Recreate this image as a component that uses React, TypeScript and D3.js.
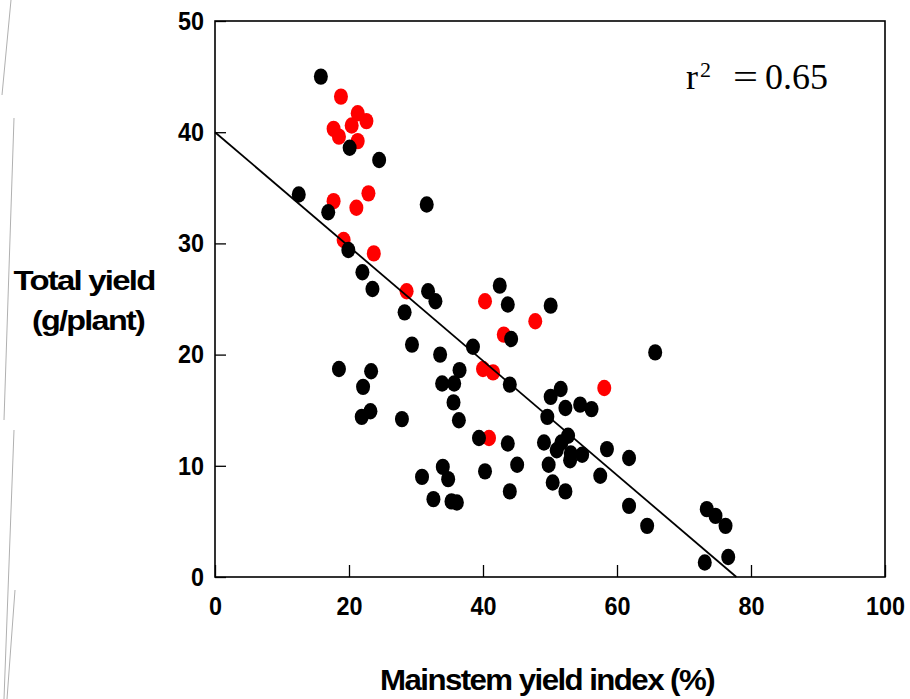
import * as d3 from 'd3';
import React, { useEffect, useRef } from 'react';

// mainstem yield index (%) vs total yield (g/plant)
const blackX = [15.8, 20.1, 24.5, 12.5, 16.9, 31.6, 19.9, 22.0, 23.5, 31.8, 32.9, 28.3, 42.5, 43.7, 50.1, 44.2, 65.7, 29.4, 33.6, 38.5,
  18.5, 23.3, 36.5, 22.1, 33.9, 35.7, 35.6, 23.2, 21.9, 27.9, 36.4, 44.0, 51.6, 50.1, 52.3, 54.5, 56.2, 49.6, 39.4, 43.7,
  49.1, 52.7, 51.7, 51.0, 53.1, 53.0, 54.8, 58.5, 61.8, 45.1, 49.8, 57.5, 40.3, 34.0, 34.8, 30.9, 50.4, 44.0, 52.3, 32.6,
  35.3, 36.1, 61.8, 64.5, 73.4, 74.7, 76.2, 73.1, 76.6];
const blackY = [45.0, 38.6, 37.5, 34.4, 32.8, 33.5, 29.4, 27.4, 25.9, 25.7, 24.8, 23.8, 26.2, 24.5, 24.4, 21.4, 20.2, 20.9, 20.0, 20.7,
  18.7, 18.5, 18.6, 17.1, 17.4, 17.4, 15.7, 14.9, 14.4, 14.2, 14.1, 17.3, 16.9, 16.2, 15.2, 15.5, 15.1, 14.4, 12.5, 12.0,
  12.1, 12.7, 12.1, 11.4, 11.1, 10.5, 11.0, 11.5, 10.7, 10.1, 10.1, 9.1, 9.5, 9.9, 8.8, 9.0, 8.5, 7.7, 7.7, 7.0,
  6.8, 6.7, 6.4, 4.6, 6.1, 5.5, 4.6, 1.3, 1.8];

const redX = [18.8, 21.3, 22.6, 20.4, 17.7, 18.5, 21.3, 22.9, 17.7, 21.1, 19.2, 23.7, 28.6, 40.3, 47.8, 43.1, 40.0, 41.5, 58.1, 40.9];
const redY = [43.2, 41.7, 41.0, 40.6, 40.3, 39.6, 39.2, 34.5, 33.8, 33.2, 30.3, 29.1, 25.7, 24.8, 23.0, 21.8, 18.7, 18.4, 17.0, 12.5];

// fitted line, y = a + b*x
const fitIntercept = 40;
const fitSlope = -0.514;
const rSquared = '0.65';

const xTicks = [0, 20, 40, 60, 80, 100];
const yTicks = [0, 10, 20, 30, 40, 50];

const W = 910, H = 699;
const margin = { left: 215, right: 25, top: 21, bottom: 122 };
const FONT = '"Liberation Sans", Arial, sans-serif';

// narrow bold digits like the original
const styleTicks = (sel) => {
  sel.selectAll('text')
    .attr('font-family', FONT).attr('font-weight', 'bold')
    .attr('font-size', 26).attr('fill', '#000')
    .attr('textLength', d => String(d).length * 13)
    .attr('lengthAdjust', 'spacingAndGlyphs');
};

const Chart = () => {
  const ref = useRef<SVGSVGElement>(null);

  useEffect(() => {
    const svg = d3.select(ref.current);
    svg.selectAll('*').remove();

    const x = d3.scaleLinear().domain([0, 100]).range([margin.left, W - margin.right]);
    const y = d3.scaleLinear().domain([0, 50]).range([H - margin.bottom, margin.top]);

    // scan artefacts at the left edge
    const scan = [[11, 0, 2, 95], [14, 118, 4, 420], [14, 430, 4, 699], [15, 590, 7, 699]];
    svg.append('g').selectAll('line').data(scan).enter().append('line')
      .attr('x1', d => d[0]).attr('y1', d => d[1]).attr('x2', d => d[2]).attr('y2', d => d[3])
      .attr('stroke', '#b0b0b0').attr('stroke-width', 1);

    // x axis
    const gx = svg.append('g')
      .attr('transform', 'translate(0,' + y(0) + ')')
      .call(d3.axisBottom(x).tickValues(xTicks).tickSizeInner(-12).tickSizeOuter(0).tickPadding(20));
    gx.select('.domain').remove();
    gx.selectAll('line').attr('stroke', '#000').attr('stroke-width', 1.3);
    styleTicks(gx);

    // y axis
    const gy = svg.append('g')
      .attr('transform', 'translate(' + x(0) + ',0)')
      .call(d3.axisLeft(y).tickValues(yTicks).tickSizeInner(-11).tickSizeOuter(0).tickPadding(11));
    gy.select('.domain').remove();
    gy.selectAll('line').attr('stroke', '#000').attr('stroke-width', 1.3);
    styleTicks(gy);

    // frame
    svg.append('rect')
      .attr('x', x(0)).attr('y', y(50))
      .attr('width', x(100) - x(0)).attr('height', y(0) - y(50))
      .attr('fill', 'none').attr('stroke', '#000').attr('stroke-width', 1.6);

    // points, red first then black on top
    const red = redX.map((v, i) => [v, redY[i]]);
    const black = blackX.map((v, i) => [v, blackY[i]]);
    svg.append('g').selectAll('ellipse').data(red).enter().append('ellipse')
      .attr('cx', d => x(d[0])).attr('cy', d => y(d[1]))
      .attr('rx', 7).attr('ry', 8.2).attr('fill', '#ff0000');
    svg.append('g').selectAll('ellipse').data(black).enter().append('ellipse')
      .attr('cx', d => x(d[0])).attr('cy', d => y(d[1]))
      .attr('rx', 7).attr('ry', 8.2).attr('fill', '#000');

    // regression line
    const xEnd = -fitIntercept / fitSlope;
    svg.append('path')
      .attr('d', d3.line()([[x(0), y(fitIntercept)], [x(xEnd), y(0)]]))
      .attr('stroke', '#000').attr('stroke-width', 1.8).attr('fill', 'none');

    // r squared
    const rg = svg.append('g').attr('font-family', '"Liberation Serif", "Times New Roman", serif').attr('fill', '#000');
    rg.append('text').attr('x', 686).attr('y', 89).attr('font-size', 36).text('r');
    rg.append('text').attr('x', 700).attr('y', 77).attr('font-size', 22).text('2');
    rg.append('text').attr('x', 733).attr('y', 89).attr('font-size', 36)
      .attr('textLength', 25).attr('lengthAdjust', 'spacingAndGlyphs').text('=');
    rg.append('text').attr('x', 765).attr('y', 89).attr('font-size', 36).text(rSquared);

    // axis titles
    svg.append('text')
      .attr('x', (x(0) + x(100)) / 2 - 3).attr('y', 690)
      .attr('text-anchor', 'middle').attr('font-family', FONT).attr('font-weight', 'bold')
      .attr('font-size', 30).attr('letter-spacing', -1.5)
      .attr('textLength', 334).attr('lengthAdjust', 'spacingAndGlyphs')
      .text('Mainstem yield index (%)');
    svg.append('text')
      .attr('x', 84).attr('y', 290)
      .attr('text-anchor', 'middle').attr('font-family', FONT).attr('font-weight', 'bold')
      .attr('font-size', 28).attr('letter-spacing', -1.5)
      .attr('textLength', 141).attr('lengthAdjust', 'spacingAndGlyphs')
      .text('Total yield');
    svg.append('text')
      .attr('x', 88).attr('y', 330)
      .attr('text-anchor', 'middle').attr('font-family', FONT).attr('font-weight', 'bold')
      .attr('font-size', 28).attr('letter-spacing', -1.5)
      .attr('textLength', 112).attr('lengthAdjust', 'spacingAndGlyphs')
      .text('(g/plant)');
  }, []);

  return <svg ref={ref} width={W} height={H} style={{ position: 'absolute', left: 0, top: 0, background: '#fff' }} />;
};

export default function App() {
  return <Chart />;
}
